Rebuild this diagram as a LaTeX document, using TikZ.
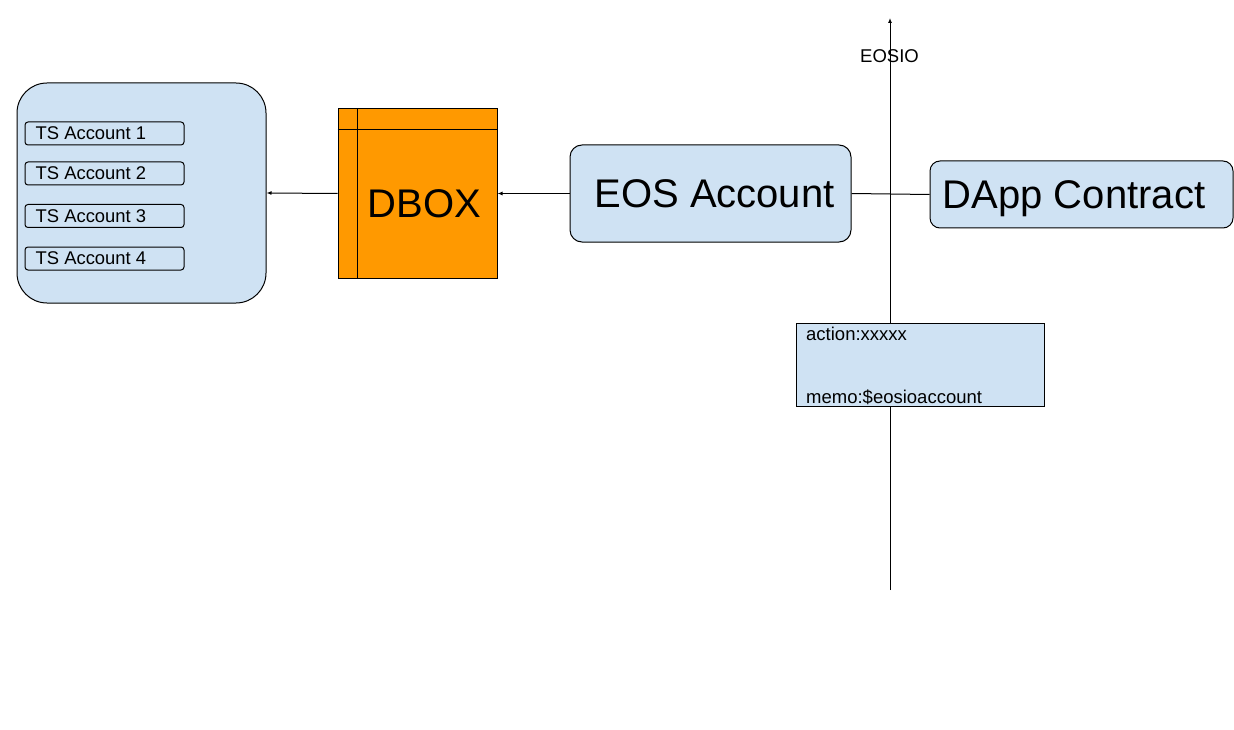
\documentclass[tikz,border=0pt]{standalone}
\usepackage{fontspec}
\setmainfont{Liberation Sans}
\usetikzlibrary{arrows.meta}
\definecolor{lblue}{HTML}{CFE2F3}
\definecolor{dorange}{HTML}{FF9900}
\tikzset{
  boxbase/.style={draw=black, line width=1pt, inner sep=0pt, fill=lblue},
  tsbox/.style={boxbase, rounded corners=3pt, minimum width=159pt, minimum height=23pt},
  tstext/.style={anchor=west, inner sep=0pt, font=\fontsize{18.4}{21}\selectfont},
  bigtext/.style={inner sep=0pt, font=\fontsize{40}{46}\selectfont, text depth=0pt},
  smalltext/.style={inner sep=0pt, font=\fontsize{18.5}{21}\selectfont},
  conn/.style={line width=1pt, -{Latex[length=5pt,width=4pt]}},
}
\begin{document}
\begin{tikzpicture}[x=1pt,y=-1pt]
\useasboundingbox (0,0) rectangle (1234,730);
% vertical axis
\coordinate (axb) at (890,590);
\coordinate (axt) at (890,18);
\draw[conn] (axb) -- (axt);
\node[smalltext, anchor=base] (eosio) at (889.5,63) {EOSIO};
% big container
\node[boxbase, rounded corners=30pt, minimum width=249pt, minimum height=220pt] (cont) at (141.5,193) {};
\node[tsbox] (ts1) at (104.5,133.5) {};
\node[tsbox] (ts2) at (104.5,173.5) {};
\node[tsbox] (ts3) at (104.5,216) {};
\node[tsbox] (ts4) at (104.5,258.5) {};
\node[tstext] (ts1t) at ([xshift=11pt]ts1.west) {TS Account 1};
\node[tstext] (ts2t) at ([xshift=11pt]ts2.west) {TS Account 2};
\node[tstext] (ts3t) at ([xshift=11pt]ts3.west) {TS Account 3};
\node[tstext] (ts4t) at ([xshift=11pt]ts4.west) {TS Account 4};
% DBOX
\node[draw=black, line width=1pt, fill=dorange, inner sep=0pt, minimum width=159pt, minimum height=169pt] (dbox) at (417.5,193.5) {};
\draw[line width=1pt] ([xshift=20pt]dbox.north west) -- ([xshift=20pt]dbox.south west);
\draw[line width=1pt] ([yshift=-21pt]dbox.north west) -- ([yshift=-21pt]dbox.north east);
\node[bigtext] (dboxt) at (424.5,204) {DBOX};
% EOS account
\node[boxbase, rounded corners=12pt, minimum width=281pt, minimum height=97pt] (eos) at (710.5,193.5) {};
\node[bigtext] (eost) at (714.5,194) {EOS Account};
% DApp contract
\node[boxbase, rounded corners=10pt, minimum width=303pt, minimum height=67pt] (dapp) at (1081.5,194.5) {};
\node[bigtext] (dappt) at (1074,194.5) {DApp Contract};
% connectors
\draw[conn] (dbox.west) -- (cont.east);
\draw[conn] (eos.west) -- (dbox.east);
\draw[line width=1pt] (eos.east) -- (dapp.west);
% action box
\node[boxbase, minimum width=248pt, minimum height=83pt] (act) at (920,364.5) {};
\node[smalltext, anchor=base west] (actt) at (806,340) {action:xxxxx};
\node[smalltext, anchor=base west] (memot) at (806,403.5) {memo:\$eosioaccount};
\end{tikzpicture}
\end{document}
